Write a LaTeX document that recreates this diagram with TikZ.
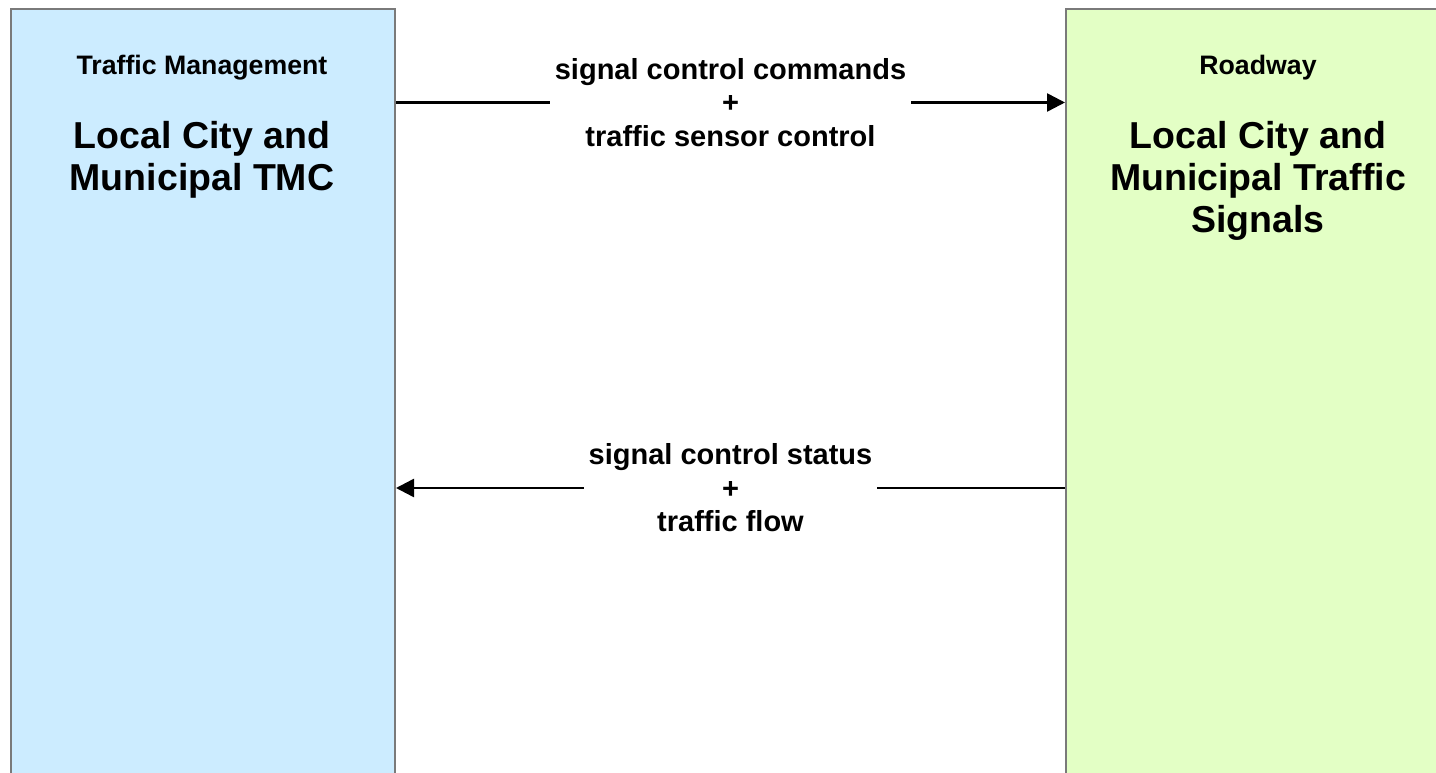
\documentclass[tikz,border=0pt]{standalone}
\usepackage{fontspec}
\setmainfont{Liberation Sans}
\usetikzlibrary{arrows.meta}
\definecolor{tmcblue}{HTML}{CCECFF}
\definecolor{roadgreen}{HTML}{E3FFC5}
\definecolor{boxborder}{HTML}{7A7A7A}
\tikzset{
  entity/.style={draw=boxborder, line width=2pt, anchor=north west, inner sep=0pt},
  cattext/.style={font=\fontsize{26.7}{30}\selectfont\bfseries, anchor=base, inner sep=0pt},
  nametext/.style={font=\fontsize{37.5}{42}\selectfont\bfseries, align=center, anchor=north, inner sep=0pt},
  flow/.style={line width=2.5pt, draw=black, -{Triangle[length=18pt,width=18pt]}},
  flowlabel/.style={font=\fontsize{29}{33.5}\selectfont\bfseries, align=center, fill=white, inner ysep=0pt, inner xsep=5pt}
}
\begin{document}
\begin{tikzpicture}[x=1pt,y=-1pt]
\clip (0,0) rectangle (1436,773);
\fill[white] (0,0) rectangle (1436,773);
\node[entity, fill=tmcblue, minimum width=384pt, minimum height=800pt] (tmc) at (10,8) {};
\node[entity, fill=roadgreen, minimum width=386pt, minimum height=800pt] (sig) at (1065,8) {};
\node[cattext] (tmccat) at (202,75) {Traffic Management};
\node[nametext] (tmcname) at (202,121) {Local City and\\Municipal TMC};
\node[cattext] (sigcat) at (1258,75) {Roadway};
\node[nametext] (signame) at (1258,121) {Local City and\\Municipal Traffic\\Signals};
\draw[flow] (tmc.east |- 0,102.5) -- node[flowlabel] (lbl1) {signal control commands\\+\\traffic sensor control} (sig.west |- 0,102.5);
\draw[flow] (sig.west |- 0,488) -- node[flowlabel] (lbl2) {signal control status\\+\\traffic flow} (tmc.east |- 0,488);
\end{tikzpicture}
\end{document}
